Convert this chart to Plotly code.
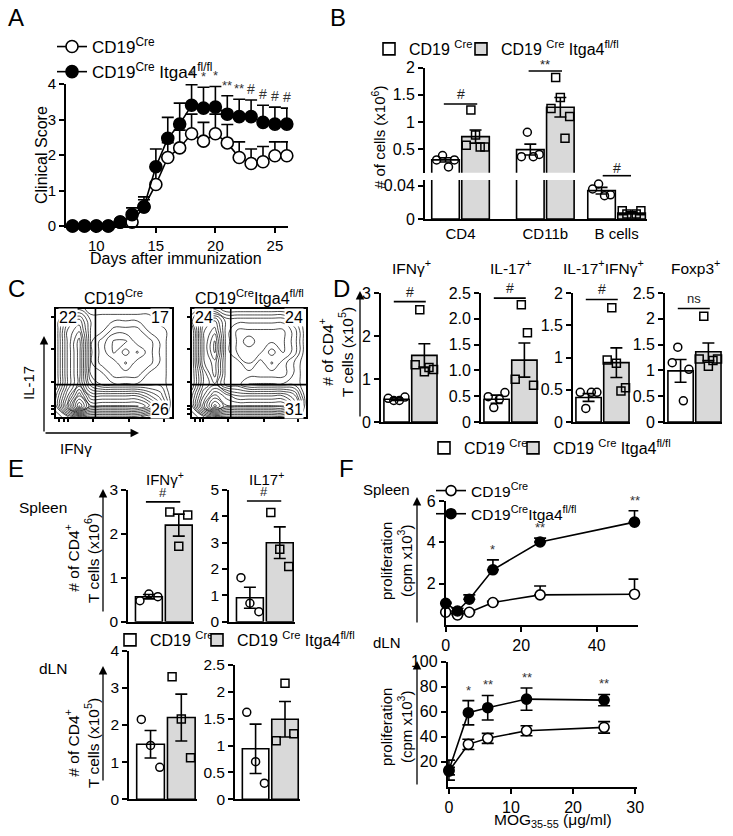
import numpy as np
import plotly.graph_objects as go

W, H = 733, 836
FONT = "Liberation Sans, Arial, sans-serif"
GREY = "#d9d9d9"

# ======================= DATA =======================
# --- Panel A: clinical score ---
A_days = [8, 9, 10, 11, 12, 13, 14, 15, 16, 17, 18, 19, 20, 21, 22, 23, 24, 25, 26]
A_ctrl = [0, 0, 0, 0, 0.11, 0.11, 0.54, 1.17, 1.93, 2.20, 2.60, 2.39, 2.60, 2.34, 1.93, 1.76, 1.81, 1.98, 1.98]
A_ctrl_sem = [0, 0, 0, 0, 0.05, 0.05, 0.20, 0.48, 0.42, 0.50, 0.55, 0.53, 0.55, 0.52, 0.44, 0.41, 0.43, 0.39, 0.39]
A_ko = [0, 0, 0, 0, 0.11, 0.32, 0.54, 1.67, 2.47, 2.87, 3.40, 3.32, 3.35, 3.15, 3.08, 3.08, 2.92, 2.87, 2.87]
A_ko_sem = [0, 0, 0, 0, 0.05, 0.19, 0.28, 0.50, 0.59, 0.59, 0.58, 0.59, 0.58, 0.52, 0.49, 0.47, 0.48, 0.48, 0.45]
A_sig_days = [18, 19, 20, 21, 22, 23, 24, 25, 26]
A_sig_marks = ["*", "*", "*", "**", "**", "#", "#", "#", "#"]

# --- Panel B: cell numbers (x10^6) ---
B_cats = ["CD4", "CD11b", "B cells"]
B_ctrl_pts = [[0.30, 0.38, 0.17, 0.30], [0.36, 0.81, 0.36, 0.40], [0.036, 0.042, 0.028, 0.029]]
B_ctrl_mean = [0.30, 0.49, 0.034]
B_ctrl_sem = [0.04, 0.10, 0.004]
B_ko_pts = [[0.57, 1.22, 0.76, 0.54, 0.54], [1.25, 1.82, 1.45, 0.70, 1.10], [0.010, 0.006, 0.004, 0.006, 0.010]]
B_ko_mean = [0.73, 1.27, 0.007]
B_ko_sem = [0.12, 0.18, 0.001]
B_sig = ["#", "**", "#"]
B_sig_y = [1.33, 1.94, None]

# --- Panel C: flow contour density (estimated levels on a 0-10 grid) ---
C_grid = [0, 1, 2, 3, 4, 5, 6, 7, 8, 9, 10]
C_left_z = [
    [0, 1, 2, 2, 2, 2, 2, 2, 1, 1, 0],
    [1, 5, 9, 6, 6, 6, 6, 6, 5, 3, 0],
    [1, 4, 7, 4, 4, 4, 4, 4, 3, 2, 0],
    [0, 3, 5, 2, 1, 1, 1, 1, 1, 1, 0],
    [0, 3, 5, 1, 1, 2, 2, 2, 1, 1, 0],
    [0, 3, 5, 1, 2, 2, 3, 2, 2, 1, 0],
    [0, 3, 5, 1, 2, 3, 2, 3, 2, 1, 0],
    [0, 3, 5, 1, 2, 3, 3, 2, 2, 1, 0],
    [0, 3, 4, 1, 1, 2, 2, 2, 1, 1, 0],
    [0, 2, 3, 1, 1, 1, 1, 1, 1, 0, 0],
    [0, 0, 1, 0, 0, 0, 0, 0, 0, 0, 0],
]
C_right_z = [
    [0, 1, 2, 2, 2, 2, 2, 2, 2, 1, 0],
    [1, 5, 8, 6, 6, 6, 6, 6, 6, 4, 0],
    [1, 4, 6, 5, 4, 4, 4, 4, 4, 3, 0],
    [0, 3, 4, 2, 2, 1, 1, 1, 1, 1, 0],
    [0, 3, 5, 2, 2, 2, 2, 2, 2, 1, 0],
    [0, 4, 5, 2, 2, 3, 2, 3, 2, 1, 0],
    [0, 4, 6, 2, 3, 3, 3, 2, 3, 2, 0],
    [0, 4, 6, 2, 3, 4, 3, 3, 3, 2, 0],
    [0, 4, 5, 2, 3, 3, 3, 3, 3, 2, 0],
    [1, 3, 4, 2, 2, 2, 2, 2, 2, 1, 0],
    [0, 1, 1, 0, 0, 0, 0, 0, 0, 0, 0],
]
C_left_q = ["22", "17", "26"]
C_right_q = ["24", "24", "31"]

# --- Panel D: # of CD4+ T cells (x10^5) ---
D_titles = ["IFNγ<sup>+</sup>", "IL-17<sup>+</sup>", "IL-17<sup>+</sup>IFNγ<sup>+</sup>", "Foxp3<sup>+</sup>"]
D_ctrl_pts = [[0.55, 0.50, 0.50, 0.58], [0.49, 0.28, 0.44, 0.57], [0.46, 0.21, 0.46, 0.46], [1.15, 1.45, 0.41, 1.02]]
D_ctrl_mean = [0.53, 0.44, 0.38, 0.99]
D_ctrl_sem = [0.03, 0.08, 0.06, 0.22]
D_ko_pts = [[1.33, 2.61, 1.17, 1.27, 1.22], [0.83, 2.27, 1.73, 0.71], [0.96, 1.77, 0.91, 0.48, 0.53], [1.22, 2.05, 1.08, 1.19, 1.22]]
D_ko_mean = [1.55, 1.20, 0.92, 1.36]
D_ko_sem = [0.27, 0.33, 0.23, 0.17]
D_ymax = [3, 2.5, 2, 2.5]
D_tickvals = [[0, 1, 2, 3], [0, 0.5, 1.0, 1.5, 2.0, 2.5], [0, 0.5, 1, 1.5, 2], [0, 0.5, 1, 1.5, 2, 2.5]]
D_ticktext = [["0", "1", "2", "3"], ["0", "0.5", "1.0", "1.5", "2.0", "2.5"], ["0", "0.5", "1", "1.5", "2"], ["0", "0.5", "1", "1.5", "2", "2.5"]]
D_sig = ["#", "#", "#", "ns"]
D_sig_y = [2.8, 2.4, 1.9, 2.2]

# --- Panel E: spleen (x10^6) and dLN (x10^5) ---
E_titles = ["IFNγ<sup>+</sup>", "IL17<sup>+</sup>", "", ""]
E_ctrl_pts = [[0.48, 0.63, 0.57], [1.67, 0.70, 0.38], [2.15, 1.45, 0.86], [1.62, 0.70, 0.30]]
E_ctrl_mean = [0.57, 0.91, 1.48, 0.94]
E_ctrl_sem = [0.05, 0.40, 0.37, 0.46]
E_ko_pts = [[2.50, 1.72, 2.43], [4.15, 2.75, 2.10], [3.30, 2.16, 1.12], [1.09, 2.16, 1.22]]
E_ko_mean = [2.20, 3.00, 2.20, 1.49]
E_ko_sem = [0.25, 0.60, 0.63, 0.33]
E_ymax = [3, 5, 4, 2.5]
E_tickvals = [[0, 1, 2, 3], [0, 1, 2, 3, 4, 5], [0, 1, 2, 3, 4], [0, 0.5, 1, 1.5, 2, 2.5]]
E_ticktext = [["0", "1", "2", "3"], ["0", "1", "2", "3", "4", "5"], ["0", "1", "2", "3", "4"], ["0", "0.5", "1", "1.5", "2", "2.5"]]
E_sig = ["#", "#", None, None]
E_sig_y = [2.73, 4.58, None, None]

# --- Panel F: proliferation ---
F_top_x = [0, 3.125, 6.25, 12.5, 25, 50]
F_top_ctrl = [0.63, 0.50, 0.63, 1.10, 1.47, 1.50]
F_top_ctrl_sem = [0.05, 0.05, 0.05, 0.06, 0.43, 0.73]
F_top_ko = [1.06, 0.69, 1.26, 2.68, 4.02, 4.98]
F_top_ko_sem = [0.05, 0.13, 0.21, 0.48, 0.19, 0.55]
F_top_sig = [None, None, None, "*", "**", "**"]
F_bot_x = [0, 3.125, 6.25, 12.5, 25]
F_bot_ctrl = [12.5, 33.9, 38.7, 44.8, 47.5]
F_bot_ctrl_sem = [3.0, 4.1, 4.0, 4.0, 4.6]
F_bot_ko = [13.3, 59.2, 63.2, 70.1, 69.3]
F_bot_ko_sem = [8.0, 9.7, 9.8, 8.9, 4.5]
F_bot_sig = [None, "*", "**", "**", "**"]

CTRL = "CD19<sup>Cre</sup>"
KO = "CD19<sup>Cre</sup> Itga4<sup>fl/fl</sup>"
CTRL_B = "CD19 <sup>Cre</sup>"
KO_B = "CD19 <sup>Cre</sup> Itga4<sup>fl/fl</sup>"
KO_F = "CD19<sup>Cre</sup>Itga4<sup>fl/fl</sup>"

# ======================= LAYOUT HELPERS =======================
layout = dict(width=W, height=H, margin=dict(l=0, r=0, t=0, b=0, autoexpand=False),
              paper_bgcolor="white", plot_bgcolor="white", barmode="overlay",
              hovermode=False, font=dict(family=FONT, size=15, color="black"))
traces, annotations, shapes = [], [], []

AXBASE = dict(showline=True, linecolor="black", linewidth=1.8, ticks="outside", ticklen=5,
              tickwidth=1.6, tickcolor="black", showgrid=False, zeroline=False, fixedrange=True)
_count = [0]


def add_axes(l, r, t, b, xr, yr, xkw=None, ykw=None, fs=15):
    _count[0] += 1
    i = _count[0]
    sx = "" if i == 1 else str(i)
    tf = dict(family=FONT, size=fs, color="black")
    xa = dict(AXBASE, domain=[l / W, r / W], range=xr, anchor="y" + sx, tickfont=tf)
    ya = dict(AXBASE, domain=[1 - b / H, 1 - t / H], range=yr, anchor="x" + sx, tickfont=tf)
    xa.update(xkw or {})
    ya.update(ykw or {})
    layout["xaxis" + sx] = xa
    layout["yaxis" + sx] = ya
    return "x" + sx, "y" + sx


def P(xpx, ypx):
    return xpx / W, 1 - ypx / H


def text(t, xpx, ypx, size=15, angle=0, xanchor="center", yanchor="middle", color="black", **kw):
    x, y = P(xpx, ypx)
    annotations.append(dict(text=t, x=x, y=y, xref="paper", yref="paper", showarrow=False,
                            textangle=angle, xanchor=xanchor, yanchor=yanchor,
                            font=dict(family=FONT, size=size, color=color), **kw))


def arrow(x0, y0, x1, y1):
    x, y = P(x1, y1)
    annotations.append(dict(text="", x=x, y=y, xref="paper", yref="paper", ax=x0 - x1, ay=y0 - y1,
                            axref="pixel", ayref="pixel", showarrow=True, arrowhead=2,
                            arrowsize=1.3, arrowwidth=1.3, arrowcolor="black", standoff=0))


def sig(xa, ya, x0, x1, y, t, size=14, yshift=0):
    shapes.append(dict(type="line", xref=xa, yref=ya, x0=x0, x1=x1, y0=y, y1=y,
                       line=dict(color="black", width=1.6)))
    annotations.append(dict(text=t, x=(x0 + x1) / 2, y=y, xref=xa, yref=ya, showarrow=False,
                            yanchor="bottom", yshift=yshift,
                            font=dict(family=FONT, size=size, color="#222")))


def star(xa, ya, x, y, t, size=13):
    annotations.append(dict(text=t, x=x, y=y, xref=xa, yref=ya, showarrow=False, yanchor="bottom",
                            yshift=1, font=dict(family=FONT, size=size, color="#333")))


def add_bars(xa, ya, xs, means, sems, fill, width, name, legend=None, legendwidth=None):
    kw = dict(legendwidth=legendwidth) if legendwidth else {}
    traces.append(go.Bar(x=xs, y=means, width=[width] * len(xs),
                         marker=dict(color=fill, line=dict(color="black", width=1.6)),
                         error_y=dict(type="data", array=sems, color="black", thickness=1.6, width=6),
                         name=name, showlegend=legend is not None, legend=legend or "legend",
                         xaxis=xa, yaxis=ya, **kw))


def add_points(xa, ya, center, vals, symbol, half):
    n = len(vals)
    offs = np.linspace(-half, half, n) if n > 1 else np.zeros(1)
    traces.append(go.Scatter(x=list(center + offs), y=vals, mode="markers",
                             marker=dict(symbol=symbol, size=8, color="black", line=dict(width=1.5, color="black")),
                             showlegend=False, xaxis=xa, yaxis=ya, cliponaxis=False))


def add_line(xa, ya, xs, ys, up, filled, name, legend, msize, symmetric=False, showlegend=True):
    err = dict(type="data", array=up, color="black", thickness=1.6, width=6)
    if symmetric:
        err["symmetric"] = True
    else:
        err.update(symmetric=False, arrayminus=[0] * len(up))
    traces.append(go.Scatter(x=xs, y=ys, mode="lines+markers", error_y=err,
                             marker=dict(symbol="circle", size=msize, color="black" if filled else "white",
                                         line=dict(color="black", width=1.6)),
                             line=dict(color="black", width=1.6), name=name, legend=legend,
                             showlegend=showlegend, xaxis=xa, yaxis=ya, cliponaxis=False))


# ======================= PANEL A =======================
xa, ya = add_axes(66, 288, 84, 226, [7.45, 26.1], [0, 4],
                  dict(tickvals=[10, 15, 20, 25]), dict(tickvals=[0, 1, 2, 3, 4]), fs=15)
add_line(xa, ya, A_days, A_ctrl, A_ctrl_sem, False, CTRL, "legend", 12)
add_line(xa, ya, A_days, A_ko, A_ko_sem, True, KO, "legend", 12)
for d, m in zip(A_sig_days, A_sig_marks):
    i = A_days.index(d)
    star(xa, ya, d, A_ko[i] + A_ko_sem[i], m, size=13 if m != "#" else 14)
text("Clinical Score", 42, 155, size=16, angle=-90)
text("Days after immunization", 176, 258, size=16)

# ======================= PANEL B =======================
B_slots = [0.0, 1.0, 1.84]   # group positions on the category axis
bw, boff = 0.325, 0.177
bx_range = [-0.419, 2.199]
xu, yu = add_axes(425, 647, 67.7, 172.7, bx_range, [0.064, 2],
                  dict(visible=False),
                  dict(tickvals=[0.5, 1, 1.5, 2], ticktext=["0.5", "1", "1.5", "2"]), fs=16)
xl, yl = add_axes(425, 647, 180, 219, bx_range, [0, 0.0468],
                  dict(tickvals=B_slots, ticktext=B_cats, ticks="", tickfont=dict(family=FONT, size=15, color="black")),
                  dict(tickvals=[0, 0.04], ticktext=["0", "0.04"]), fs=16)
# upper segment shows CD4 and CD11b detail, lower segment the small B-cell values
seg_groups = [[0, 1], [2]]
for k, (xa, ya) in enumerate([(xu, yu), (xl, yl)]):
    leg = "legend2" if k == 1 else None
    sc = [B_ctrl_sem[j] if j in seg_groups[k] else 0 for j in range(3)]
    sk = [B_ko_sem[j] if j in seg_groups[k] else 0 for j in range(3)]
    add_bars(xa, ya, [g - boff for g in B_slots], B_ctrl_mean, sc, "white", bw, CTRL_B, leg, 47)
    add_bars(xa, ya, [g + boff for g in B_slots], B_ko_mean, sk, GREY, bw, KO_B, leg)
    for j in seg_groups[k]:
        add_points(xa, ya, B_slots[j] - boff, B_ctrl_pts[j], "circle-open", 0.105)
        add_points(xa, ya, B_slots[j] + boff, B_ko_pts[j], "square-open", 0.11)
for g, s, y in zip(B_slots, B_sig, B_sig_y):
    if y is not None:
        sig(xu, yu, g - boff - 0.02, g + boff + 0.02, y, s,
            size=14 if s == "#" else 13, yshift=0 if s == "#" else -3)
# B-cell significance bar sits in the axis break
x0p, x1p = 602.7, 631.0
shapes.append(dict(type="line", xref="paper", yref="paper", x0=x0p / W, x1=x1p / W,
                   y0=1 - 175.7 / H, y1=1 - 175.7 / H, line=dict(color="black", width=1.6)))
text(B_sig[2], (x0p + x1p) / 2, 168.5, size=14, color="#222")
text("# of cells (x10<sup>6</sup>)", 378, 138, angle=-90)

# ======================= PANEL C =======================
C_ticks = [0.3, 0.7, 1.0, 3.2, 6.3, 9.3]
for (l, r), z, q, title in [((56, 172), C_left_z, C_left_q, CTRL),
                           ((192, 306), C_right_z, C_right_q, "CD19<sup>Cre</sup>Itga4<sup>fl/fl</sup>")]:
    xa, ya = add_axes(l, r, 309, 417, [0, 10], [0, 10],
                      dict(mirror=True, ticklen=3, tickvals=C_ticks, showticklabels=False),
                      dict(mirror=True, ticklen=3, tickvals=C_ticks, showticklabels=False))
    traces.append(go.Contour(x=C_grid, y=C_grid, z=z, showscale=False, showlegend=False,
                             xaxis=xa, yaxis=ya,
                             contours=dict(coloring="none", start=0.5, end=9.5, size=0.6),
                             line=dict(color="black", width=0.7, smoothing=1.3)))
    shapes.append(dict(type="line", xref=xa, yref=ya, x0=3.4, x1=3.4, y0=0, y1=10,
                       line=dict(color="black", width=1.6)))
    shapes.append(dict(type="line", xref=xa, yref=ya, x0=0, x1=10, y0=3.0, y1=3.0,
                       line=dict(color="black", width=1.6)))
    text(q[0], l + 2, 317, size=16, xanchor="left", bgcolor="white", borderpad=0)
    text(q[1], r - 2, 317, size=16, xanchor="right", bgcolor="white", borderpad=0)
    text(q[2], r - 2, 410, size=16, xanchor="right", bgcolor="white", borderpad=0)
    text(title, (l + r) / 2, 297, size=16)
arrow(44, 433, 44, 336)
arrow(44, 433, 139, 433)
text("IL-17", 29, 383, angle=-90)
text("IFNγ", 76, 448)

# ======================= PANEL D =======================
D_left = [381, 481, 573, 665]
for i in range(4):
    l = D_left[i]
    xa, ya = add_axes(l, l + 57, 293, 422, [-0.56, 1.49], [0, D_ymax[i]],
                      dict(ticks="", showticklabels=False),
                      dict(tickvals=D_tickvals[i], ticktext=D_ticktext[i]), fs=16)
    leg = "legend3" if i == 0 else None
    add_bars(xa, ya, [0], [D_ctrl_mean[i]], [D_ctrl_sem[i]], "white", 0.91, CTRL_B, leg, 44)
    add_bars(xa, ya, [1], [D_ko_mean[i]], [D_ko_sem[i]], GREY, 0.91, KO_B, leg)
    add_points(xa, ya, 0, D_ctrl_pts[i], "circle-open", 0.3)
    add_points(xa, ya, 1, D_ko_pts[i], "square-open", 0.33)
    sig(xa, ya, -0.1, 1.05, D_sig_y[i], D_sig[i], size=14 if D_sig[i] == "#" else 13)
    text(D_titles[i], l + 30, 267, size=15.5)
text("# of CD4<sup>+</sup><br>T cells (x10<sup>5</sup>)", 336, 352, size=15.5, angle=-90)
arrow(360, 418, 360, 291)

# ======================= PANEL E =======================
E_boxes = [(128, 194, 490, 621.7), (229, 295, 490, 621.7), (129, 197, 650.7, 799.3), (235, 300, 665, 799.3)]
for i in range(4):
    l, r, t, b = E_boxes[i]
    xa, ya = add_axes(l, r, t, b, [-0.70, 1.51], [0, E_ymax[i]],
                      dict(ticks="", showticklabels=False),
                      dict(tickvals=E_tickvals[i], ticktext=E_ticktext[i]), fs=15.5)
    leg = "legend4" if i == 0 else None
    add_bars(xa, ya, [0], [E_ctrl_mean[i]], [E_ctrl_sem[i]], "white", 0.9, CTRL_B, leg, 42)
    add_bars(xa, ya, [1], [E_ko_mean[i]], [E_ko_sem[i]], GREY, 0.9, KO_B, leg)
    add_points(xa, ya, 0, E_ctrl_pts[i], "circle-open", 0.3)
    add_points(xa, ya, 1, E_ko_pts[i], "square-open", 0.3)
    if E_sig[i]:
        sig(xa, ya, -0.1, 1.05, E_sig_y[i], E_sig[i], size=13)
    if E_titles[i]:
        text(E_titles[i], (l + r) / 2 + 4, 478, size=15)
text("Spleen", 43, 508, size=15.5)
text("dLN", 53, 668, size=15.5)
text("# of CD4<sup>+</sup><br>T cells (x10<sup>6</sup>)", 82, 558, size=15.5, angle=-90)
arrow(103, 613, 103, 489)
text("# of CD4<sup>+</sup><br>T cells (x10<sup>5</sup>)", 82, 743, size=15.5, angle=-90)
arrow(103, 782, 103, 666)

# ======================= PANEL F =======================
xa, ya = add_axes(445.7, 638.3, 501, 625.3, [0, 51], [0, 6],
                  dict(tickvals=[0, 20, 40]), dict(tickvals=[2, 4, 6]), fs=16)
add_line(xa, ya, F_top_x, F_top_ctrl, F_top_ctrl_sem, False, CTRL, "legend5", 10)
add_line(xa, ya, F_top_x, F_top_ko, F_top_ko_sem, True, KO_F, "legend5", 10)
for x, y, e, s in zip(F_top_x, F_top_ko, F_top_ko_sem, F_top_sig):
    if s:
        star(xa, ya, x, y + e, s)
xa, ya = add_axes(447.7, 637, 661.7, 786.7, [-0.2, 30.3], [0, 100],
                  dict(tickvals=[0, 10, 20, 30]), dict(tickvals=[20, 40, 60, 80, 100]), fs=16)
add_line(xa, ya, F_bot_x, F_bot_ctrl, F_bot_ctrl_sem, False, CTRL, "legend5", 10, symmetric=True, showlegend=False)
add_line(xa, ya, F_bot_x, F_bot_ko, F_bot_ko_sem, True, KO_F, "legend5", 10, symmetric=True, showlegend=False)
for x, y, e, s in zip(F_bot_x, F_bot_ko, F_bot_ko_sem, F_bot_sig):
    if s:
        star(xa, ya, x, y + e, s)
text("Spleen", 386, 489)
text("dLN", 387, 642)
text("proliferation<br>(cpm x10<sup>3</sup>)", 396, 561, angle=-90)
arrow(417, 624, 417, 497)
text("proliferation<br>(cpm x10<sup>3</sup>)", 396, 727, angle=-90)
arrow(417, 786, 417, 661)
text("MOG<sub>35-55</sub> (μg/ml)", 553, 820, size=15.5)

# ======================= PANEL LETTERS =======================
for L, x, y in [("A", 16, 18), ("B", 338, 18), ("C", 16, 288), ("D", 341, 288), ("E", 16, 468), ("F", 346, 468)]:
    text(L, x, y, size=24)

# ======================= LEGENDS =======================
LEG = dict(bgcolor="rgba(0,0,0,0)", borderwidth=0, font=dict(family=FONT, size=16, color="black"),
           itemwidth=30, tracegroupgap=0, xanchor="left", yanchor="top")
layout["legend"] = dict(LEG, x=52 / W, y=1 - 29 / H, font=dict(family=FONT, size=17, color="black"))
layout["legend2"] = dict(LEG, orientation="h", x=369 / W, y=1 - 32 / H)
layout["legend3"] = dict(LEG, orientation="h", x=424 / W, y=1 - 431 / H)
layout["legend4"] = dict(LEG, orientation="h", x=110 / W, y=1 - 623 / H)
layout["legend5"] = dict(LEG, x=431 / W, y=1 - 474 / H, font=dict(family=FONT, size=15.5, color="black"))

layout["annotations"] = annotations
layout["shapes"] = shapes
fig = go.Figure(data=traces, layout=layout)
fig.write_html("out.html", config={"displayModeBar": False},
               post_script="document.body.style.margin='0';")
